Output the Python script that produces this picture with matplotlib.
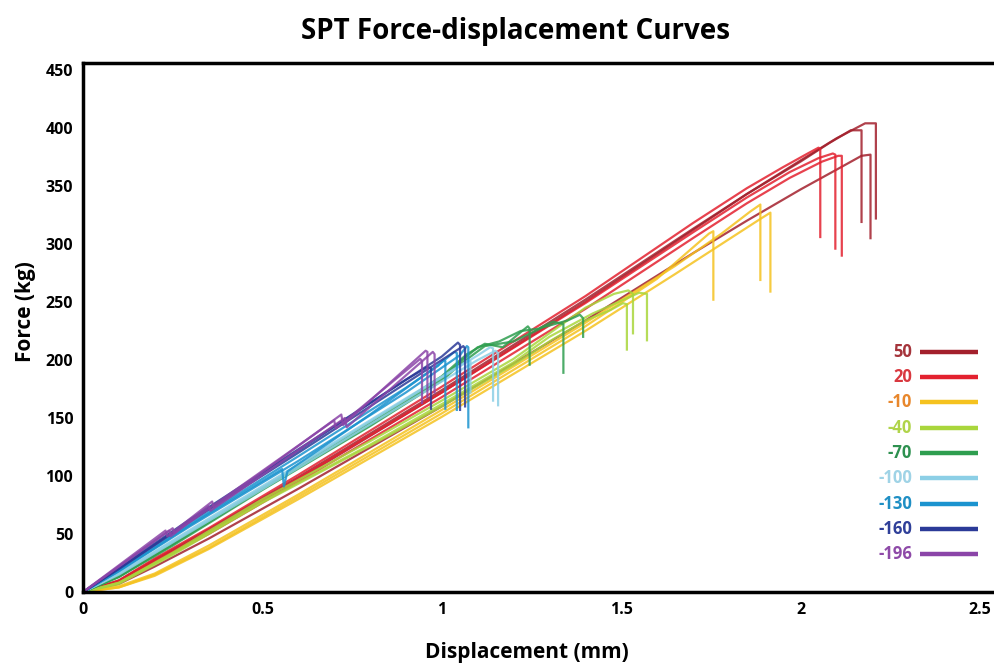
import matplotlib
matplotlib.use("Agg")
import matplotlib.pyplot as plt

plt.rcParams["font.family"] = ["Open Sans", "DejaVu Sans"]
plt.rcParams["font.weight"] = "bold"

# temperatures (legend) and colours
temps = ["50", "20", "-10", "-40", "-70", "-100", "-130", "-160", "-196"]
line_colors = ["#a3202c", "#e3212f", "#f5c21f", "#a9d63c", "#2e9e4f",
               "#8ccfe6", "#1b93cf", "#2b3a98", "#8b45a8"]
text_colors = ["#a5343b", "#d9383f", "#e8872c", "#b0d44a", "#2e9150",
               "#9fd3e6", "#1f8fc4", "#2f3f99", "#8e4aa8"]

# 50 C
t50_x1 = [0, 0.1, 0.2, 0.35, 0.6, 1.0, 1.4, 1.7, 1.85, 2.0, 2.1, 2.18, 2.21, 2.21]
t50_y1 = [0, 9, 27, 52, 97, 172, 250, 312, 343, 372, 391, 404, 404, 322]
t50_x2 = [0, 0.1, 0.2, 0.35, 0.6, 1.0, 1.4, 1.7, 1.85, 2.0, 2.08, 2.14, 2.17, 2.17]
t50_y2 = [0, 10, 28, 54, 99, 174, 252, 313, 343, 371, 387, 398, 398, 319]
t50_x3 = [0, 0.1, 0.2, 0.35, 0.6, 1.0, 1.4, 1.7, 1.85, 2.0, 2.1, 2.17, 2.195, 2.195]
t50_y3 = [0, 7, 22, 46, 89, 160, 234, 292, 320, 347, 364, 376, 377, 305]

# 20 C
t20_x1 = [0, 0.1, 0.2, 0.35, 0.6, 1.0, 1.4, 1.7, 1.85, 1.95, 2.02, 2.05, 2.055, 2.055]
t20_y1 = [0, 10, 29, 55, 101, 177, 255, 318, 348, 366, 378, 383, 382, 306]
t20_x2 = [0, 0.1, 0.2, 0.35, 0.6, 1.0, 1.4, 1.7, 1.85, 1.97, 2.05, 2.09, 2.097, 2.097]
t20_y2 = [0, 9, 27, 52, 98, 172, 249, 310, 340, 362, 374, 378, 377, 296]
t20_x3 = [0, 0.1, 0.2, 0.35, 0.6, 1.0, 1.4, 1.7, 1.85, 1.97, 2.06, 2.105, 2.115, 2.115]
t20_y3 = [0, 8, 25, 50, 95, 168, 244, 305, 335, 357, 371, 376, 376, 290]

# -10 C
m10_x1 = [0, 0.1, 0.2, 0.35, 0.6, 1.0, 1.4, 1.65, 1.78, 1.86, 1.888, 1.888]
m10_y1 = [0, 5, 16, 40, 84, 157, 232, 281, 309, 328, 334, 269]
m10_x2 = [0, 0.1, 0.2, 0.35, 0.6, 1.0, 1.4, 1.65, 1.8, 1.89, 1.916, 1.916]
m10_y2 = [0, 4, 14, 37, 80, 151, 225, 274, 304, 322, 327, 259]
m10_x3 = [0, 0.1, 0.2, 0.35, 0.6, 1.0, 1.4, 1.6, 1.7, 1.745, 1.757, 1.757]
m10_y3 = [0, 4, 15, 38, 82, 154, 229, 270, 297, 309, 311, 252]

# -40 C
m40_x1 = [0, 0.1, 0.25, 0.5, 0.8, 1.0, 1.2, 1.3, 1.42, 1.5, 1.55, 1.572, 1.572]
m40_y1 = [0, 8, 33, 78, 127, 162, 198, 220, 240, 251, 258, 257, 217]
m40_x2 = [0, 0.1, 0.25, 0.5, 0.8, 1.0, 1.2, 1.3, 1.4, 1.48, 1.52, 1.533, 1.533]
m40_y2 = [0, 8, 34, 80, 130, 165, 201, 223, 245, 257, 260, 257, 223]
m40_x3 = [0, 0.1, 0.25, 0.5, 0.8, 1.0, 1.2, 1.3, 1.4, 1.47, 1.505, 1.516, 1.516]
m40_y3 = [0, 7, 32, 77, 126, 160, 196, 216, 234, 243, 249, 248, 209]

# -70 C
m70_x1 = [0, 0.1, 0.25, 0.5, 0.8, 1.0, 1.07, 1.12, 1.17, 1.22, 1.24, 1.245, 1.245]
m70_y1 = [0, 14, 42, 90, 146, 186, 205, 214, 211, 224, 229, 227, 196]
m70_x2 = [0, 0.1, 0.25, 0.5, 0.8, 1.0, 1.05, 1.1, 1.16, 1.22, 1.27, 1.31, 1.339, 1.339]
m70_y2 = [0, 13, 41, 89, 144, 184, 198, 211, 216, 225, 227, 233, 231, 189]
m70_x3 = [0, 0.1, 0.25, 0.5, 0.8, 1.0, 1.05, 1.12, 1.2, 1.28, 1.35, 1.385, 1.394, 1.394]
m70_y3 = [0, 13, 40, 88, 143, 182, 196, 212, 216, 228, 234, 239, 236, 220]

# -100 C
m100_x1 = [0, 0.1, 0.3, 0.6, 0.9, 1.1, 1.135, 1.143, 1.143]
m100_y1 = [0, 16, 53, 109, 166, 204, 211, 210, 165]
m100_x2 = [0, 0.1, 0.3, 0.6, 0.9, 1.1, 1.15, 1.157, 1.157]
m100_y2 = [0, 15, 52, 107, 163, 200, 208, 206, 161]
m100_x3 = [0, 0.1, 0.3, 0.6, 0.9, 1.05, 1.075, 1.08, 1.08]
m100_y3 = [0, 16, 54, 110, 167, 195, 200, 199, 172]

# -130 C
m130_x1 = [0, 0.1, 0.3, 0.555, 0.56, 0.57, 0.8, 1.0, 1.035, 1.042, 1.042]
m130_y1 = [0, 18, 58, 106, 91, 104, 153, 198, 207, 206, 157]
m130_x2 = [0, 0.1, 0.3, 0.6, 0.9, 1.05, 1.07, 1.074, 1.074]
m130_y2 = [0, 18, 57, 113, 172, 204, 212, 211, 142]
m130_x3 = [0, 0.1, 0.3, 0.6, 0.9, 0.99, 1.005, 1.01, 1.01]
m130_y3 = [0, 19, 59, 117, 176, 195, 200, 199, 158]

# -160 C
m160_x1 = [0, 0.1, 0.3, 0.6, 0.9, 1.0, 1.045, 1.051, 1.051]
m160_y1 = [0, 20, 62, 122, 183, 203, 215, 213, 157]
m160_x2 = [0, 0.1, 0.3, 0.6, 0.9, 1.0, 1.06, 1.065, 1.065]
m160_y2 = [0, 20, 61, 120, 180, 200, 212, 210, 160]
m160_x3 = [0, 0.1, 0.3, 0.6, 0.9, 0.96, 0.97, 0.97]
m160_y3 = [0, 21, 63, 123, 183, 194, 193, 158]

# -196 C
m196_x1 = [0, 0.23, 0.235, 0.36, 0.365, 0.72, 0.725, 0.955, 0.96, 0.96]
m196_y1 = [0, 53, 48, 78, 73, 153, 144, 208, 207, 168]
m196_x2 = [0, 0.24, 0.245, 0.35, 0.355, 0.73, 0.735, 0.975, 0.98, 0.98]
m196_y2 = [0, 53, 48, 74, 70, 150, 142, 207, 205, 172]
m196_x3 = [0, 0.25, 0.255, 0.7, 0.705, 0.94, 0.945, 0.945]
m196_y3 = [0, 55, 51, 148, 141, 201, 199, 163]

curves = [
    [(t50_x1, t50_y1), (t50_x2, t50_y2), (t50_x3, t50_y3)],
    [(t20_x1, t20_y1), (t20_x2, t20_y2), (t20_x3, t20_y3)],
    [(m10_x1, m10_y1), (m10_x2, m10_y2), (m10_x3, m10_y3)],
    [(m40_x1, m40_y1), (m40_x2, m40_y2), (m40_x3, m40_y3)],
    [(m70_x1, m70_y1), (m70_x2, m70_y2), (m70_x3, m70_y3)],
    [(m100_x1, m100_y1), (m100_x2, m100_y2), (m100_x3, m100_y3)],
    [(m130_x1, m130_y1), (m130_x2, m130_y2), (m130_x3, m130_y3)],
    [(m160_x1, m160_y1), (m160_x2, m160_y2), (m160_x3, m160_y3)],
    [(m196_x1, m196_y1), (m196_x2, m196_y2), (m196_x3, m196_y3)],
]

x_ticks = [0, 0.5, 1, 1.5, 2, 2.5]
x_ticklabels = ["0", "0.5", "1", "1.5", "2", "2.5"]
y_ticks = [0, 50, 100, 150, 200, 250, 300, 350, 400, 450]

fig = plt.figure(figsize=(9.95, 6.63), dpi=100)
ax = fig.add_axes([0.0834, 0.107, 0.9166, 0.798])

for group, col in zip(curves, line_colors):
    for xs, ys in group:
        ax.plot(xs, ys, color=col, lw=1.6, alpha=0.85, solid_joinstyle="round")

ax.set_xlim(0, 2.542)
ax.set_ylim(0, 456)
ax.set_xticks(x_ticks)
ax.set_xticklabels(x_ticklabels)
ax.set_yticks(y_ticks)
ax.tick_params(length=0, labelsize=11.5, pad=7)
for lab in ax.get_xticklabels() + ax.get_yticklabels():
    lab.set_fontweight("bold")

for s in ["left", "bottom", "top"]:
    ax.spines[s].set_linewidth(2.5)
ax.spines["right"].set_visible(False)

ax.set_xlabel("Displacement (mm)", fontsize=15, fontweight="bold")
ax.set_ylabel("Force (kg)", fontsize=15, fontweight="bold")
ax.xaxis.set_label_coords(0.487, -0.095)
ax.yaxis.set_label_coords(-0.052, 0.53)
fig.suptitle("SPT Force-displacement Curves", fontsize=20, fontweight="bold",
             x=0.518, y=0.975)

# custom legend: coloured text on the left, thick line on the right
for i, (t, lc, tc) in enumerate(zip(temps, line_colors, text_colors)):
    yy = 0.454 - i * 0.0478
    ax.text(0.909, yy, t, color=tc, fontsize=12, fontweight="bold",
            ha="right", va="center", transform=ax.transAxes)
    ax.plot([0.918, 0.981], [yy, yy], color=lc, lw=3.2,
            transform=ax.transAxes, clip_on=False, solid_capstyle="butt")

fig.savefig("out.png", dpi=100)
